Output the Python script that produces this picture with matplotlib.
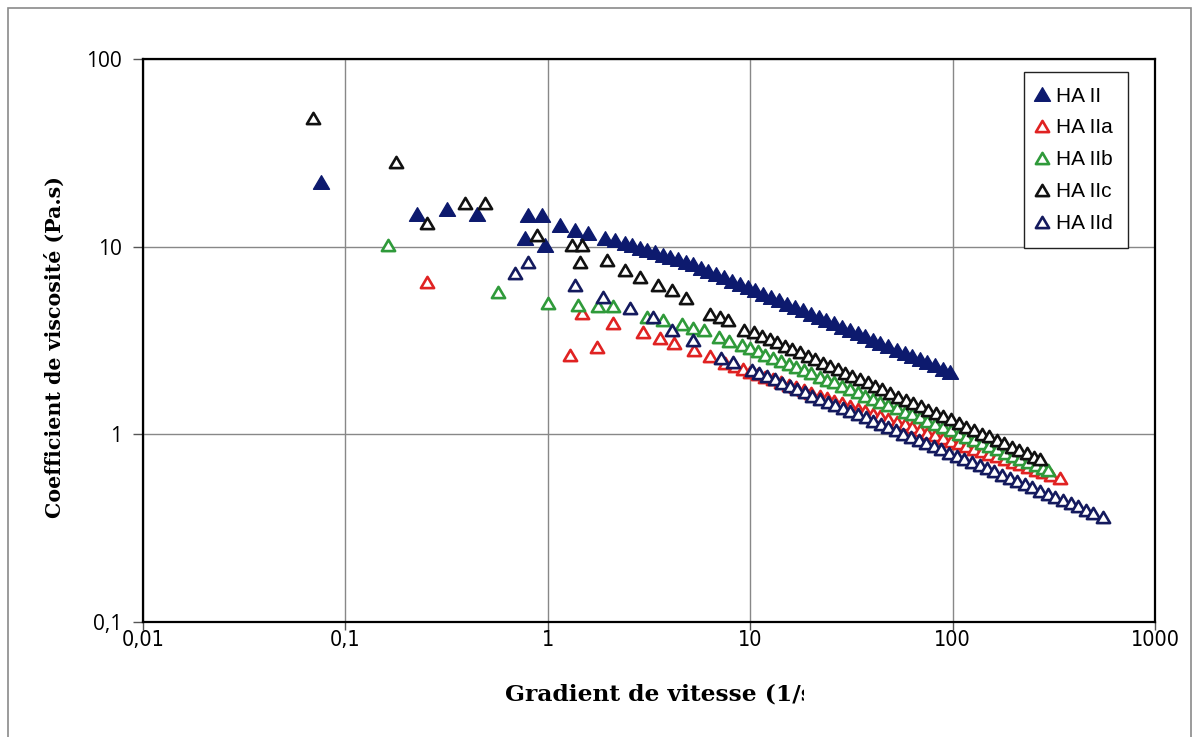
import matplotlib
matplotlib.use("Agg")
import matplotlib.pyplot as plt
from matplotlib.patches import Rectangle
from matplotlib.path import Path
from matplotlib.ticker import FixedLocator, FixedFormatter, NullLocator

# HA II (filled triangles)
ha2_x = [0.076, 0.226, 0.318, 0.447, 0.772, 0.798, 0.936, 0.969, 1.15, 1.36, 1.58, 1.92, 2.15,
         2.4, 2.6, 2.85, 3.1, 3.4, 3.7, 4.0, 4.4, 4.8, 5.2, 5.7, 6.2, 6.8, 7.4, 8.1, 8.9, 9.7,
         10.6, 11.6, 12.7, 13.9, 15.2, 16.6, 18.2, 19.9, 21.8, 23.8, 26, 28.5, 31, 34, 37, 40.5,
         44, 48, 53, 58, 63, 69, 75, 82, 90, 97]
ha2_y = [22.1, 14.9, 15.9, 14.9, 11.1, 14.8, 14.8, 10.2, 13.0, 12.3, 11.8, 11.1, 10.9,
         10.45, 10.17, 9.87, 9.60, 9.31, 9.06, 8.83, 8.55, 8.31, 8.06, 7.73, 7.44, 7.14, 6.87, 6.60, 6.33, 6.09,
         5.85, 5.62, 5.39, 5.18, 4.97, 4.78, 4.59, 4.40, 4.23, 4.06, 3.91, 3.75, 3.61, 3.46, 3.33, 3.20,
         3.08, 2.96, 2.83, 2.72, 2.62, 2.52, 2.42, 2.33, 2.23, 2.16]

# HA IIa
ha2a_x = [0.253, 1.29, 1.47, 1.75, 2.1, 2.95, 3.6, 4.2, 5.3, 6.3, 7.5, 8.4,
          9.2, 10, 10.9, 11.9, 13, 14.2, 15.5, 16.9, 18.4, 20, 22, 24, 26, 28.5, 31, 34, 37, 40.5,
          44, 48, 53, 58, 63, 69, 75, 82, 90, 98, 107, 117, 128, 140, 152, 166, 181, 198, 216,
          236, 257, 280, 305, 340]
ha2a_y = [6.5, 2.65, 4.44, 2.92, 3.9, 3.5, 3.27, 3.06, 2.8, 2.6, 2.4, 2.3,
          2.22, 2.16, 2.09, 2.02, 1.96, 1.89, 1.83, 1.78, 1.72, 1.67, 1.61, 1.56, 1.51, 1.46, 1.42, 1.37, 1.33, 1.28,
          1.25, 1.21, 1.16, 1.13, 1.09, 1.05, 1.02, 0.990, 0.956, 0.927, 0.897, 0.868, 0.839, 0.812, 0.788, 0.763, 0.739, 0.714, 0.692,
          0.669, 0.649, 0.628, 0.609, 0.585]

# HA IIb
ha2b_x = [0.162, 0.567, 1.0, 1.41, 1.77, 2.1, 3.1, 3.7, 4.6, 5.2, 5.9, 7.0, 7.9, 9.1,
          10, 10.9, 11.9, 13, 14.2, 15.5, 16.9, 18.4, 20, 22, 24, 26, 28.5, 31, 34, 37, 40.5,
          44, 48, 53, 58, 63, 69, 75, 82, 90, 98, 107, 117, 128, 140, 152, 166, 181, 198, 216,
          236, 257, 280, 296]
ha2b_y = [10.2, 5.7, 5.0, 4.9, 4.8, 4.8, 4.2, 4.07, 3.85, 3.7, 3.6, 3.3, 3.15, 3.0,
          2.88, 2.77, 2.66, 2.56, 2.46, 2.37, 2.28, 2.20, 2.12, 2.03, 1.95, 1.89, 1.81, 1.74, 1.68, 1.61, 1.55,
          1.49, 1.44, 1.38, 1.32, 1.28, 1.23, 1.18, 1.14, 1.09, 1.05, 1.01, 0.970, 0.932, 0.896, 0.864, 0.831, 0.800, 0.769, 0.740,
          0.711, 0.685, 0.660, 0.644]

# HA IIc
ha2c_x = [0.069, 0.178, 0.253, 0.39, 0.49, 0.885, 1.31, 1.44, 1.47, 1.95, 2.41, 2.85, 3.5, 4.1, 4.8,
          6.3, 7.1, 7.8, 9.3, 10.5,
          11.5, 12.5, 13.6, 14.8, 16.1, 17.6, 19.2, 20.9, 22.8, 24.8, 27, 29.5, 32, 35, 38, 41.5,
          45, 49, 54, 59, 64, 70, 76, 83, 90, 98, 107, 117, 127, 139, 151, 165, 180, 196, 213,
          232, 253, 270]
ha2c_y = [48.5, 28.3, 13.3, 17.1, 17.1, 11.5, 10.2, 8.3, 10.2, 8.5, 7.5, 6.9, 6.25, 5.9, 5.35,
          4.4, 4.2, 4.05, 3.6, 3.5,
          3.35, 3.22, 3.09, 2.97, 2.85, 2.73, 2.62, 2.52, 2.41, 2.32, 2.22, 2.13, 2.05, 1.96, 1.89, 1.81,
          1.74, 1.67, 1.59, 1.53, 1.47, 1.41, 1.35, 1.30, 1.25, 1.20, 1.15, 1.10, 1.06, 1.01, 0.974, 0.933, 0.895, 0.859, 0.825,
          0.792, 0.760, 0.737]

# HA IId
ha2d_x = [0.689, 0.80, 1.36, 1.88, 2.55, 3.3, 4.1, 5.2, 7.2, 8.2,
          10.2, 11.1, 12.1, 13.2, 14.4, 15.7, 17.1, 18.6, 20.3, 22.1, 24.1, 26.3, 28.7, 31.3, 34.1,
          37.2, 40.5, 44.2, 48.2, 52.5, 57.2, 62.4, 68, 74, 81, 88, 96, 105, 114, 124, 136, 148,
          161, 176, 192, 209, 228, 248, 271, 295, 322, 351, 383, 417, 455, 496, 553]
ha2d_y = [7.25, 8.3, 6.25, 5.4, 4.7, 4.2, 3.6, 3.18, 2.55, 2.44,
          2.20, 2.12, 2.04, 1.96, 1.88, 1.81, 1.74, 1.68, 1.61, 1.55, 1.49, 1.44, 1.38, 1.33, 1.28,
          1.23, 1.18, 1.14, 1.09, 1.05, 1.01, 0.972, 0.935, 0.900, 0.864, 0.833, 0.800, 0.769, 0.741, 0.713, 0.684, 0.658,
          0.634, 0.609, 0.586, 0.563, 0.542, 0.522, 0.501, 0.483, 0.464, 0.446, 0.429, 0.413, 0.397, 0.382, 0.363]

labels = ["HA II", "HA IIa", "HA IIb", "HA IIc", "HA IId"]
colors = ["#0d1a6e", "#e02222", "#2f9a3a", "#111111", "#141a5e"]

xticks = [0.01, 0.1, 1, 10, 100, 1000]
xticklabels = ["0,01", "0,1", "1", "10", "100", "1000"]
yticks = [0.1, 1, 10, 100]
yticklabels = ["0,1", "1", "10", "100"]

tri = Path([(0, 0.85), (-1, -0.85), (1, -0.85), (0, 0.85)], closed=True)

fig = plt.figure(figsize=(11.98, 7.37), dpi=100)
ax = fig.add_axes([143/1198, 1-622/737, (1155-143)/1198, (622-59)/737])

series = [(ha2_x, ha2_y), (ha2a_x, ha2a_y), (ha2b_x, ha2b_y), (ha2c_x, ha2c_y), (ha2d_x, ha2d_y)]
for i, (xs, ys) in enumerate(series):
    if i == 0:
        ax.plot(xs, ys, linestyle="none", marker=tri, ms=11.5, mfc=colors[i], mec=colors[i],
                mew=1.0, label=labels[i], zorder=3)
    else:
        ax.plot(xs, ys, linestyle="none", marker=tri, ms=9.5, mfc="white", mec=colors[i],
                mew=1.9, label=labels[i], zorder=3)

ax.set_xscale("log")
ax.set_yscale("log")
ax.set_xlim(0.01, 1000)
ax.set_ylim(0.1, 100)
ax.xaxis.set_major_locator(FixedLocator(xticks))
ax.xaxis.set_major_formatter(FixedFormatter(xticklabels))
ax.yaxis.set_major_locator(FixedLocator(yticks))
ax.yaxis.set_major_formatter(FixedFormatter(yticklabels))
ax.xaxis.set_minor_locator(NullLocator())
ax.yaxis.set_minor_locator(NullLocator())
ax.grid(True, color="#888888", lw=1.0)
ax.set_axisbelow(True)
for s in ax.spines.values():
    s.set_color("black")
    s.set_linewidth(1.6)
ax.tick_params(axis="both", direction="out", width=1, color="#555555")
ax.tick_params(axis="y", length=7, pad=8)
ax.tick_params(axis="x", length=6, pad=0)
for t in ax.get_xticklabels():
    t.set_family("DejaVu Sans")
    t.set_stretch("condensed")
    t.set_fontsize(15.5)
for t in ax.get_yticklabels():
    t.set_family(["Open Sans", "DejaVu Sans"])
    t.set_fontsize(15)

leg = ax.legend(loc="upper right", bbox_to_anchor=(0.973, 0.977), frameon=True, fancybox=False,
                edgecolor="#222222", framealpha=1, prop={"family": "Liberation Sans", "size": 15},
                handlelength=0.3, handletextpad=0.55, labelspacing=0.62, borderpad=0.7,
                markerscale=1.0, borderaxespad=0)
leg.get_frame().set_linewidth(1.0)

fig.text(55/1198, 1-347/737, "Coefficient de viscosité (Pa.s)", rotation=90, ha="center",
         va="center", family="DejaVu Serif", weight="bold", fontsize=14.8)
fig.text(505/1198, 1-694/737, "Gradient de vitesse (1/s)", ha="left", va="center",
         family="DejaVu Serif", weight="bold", fontsize=16.8)
# the label is cut off in the original chart
fig.patches.append(Rectangle((804/1198, 1-718/737), 140/1198, 46/737, transform=fig.transFigure,
                             fc="white", ec="none", zorder=10))

fig.patches.append(Rectangle((8/1198, -0.02), (1191-8)/1198, 1-8/737+0.02, transform=fig.transFigure,
                             fill=False, ec="#8a8a8a", lw=1.2))

fig.savefig("out.png", dpi=100, facecolor="white")
